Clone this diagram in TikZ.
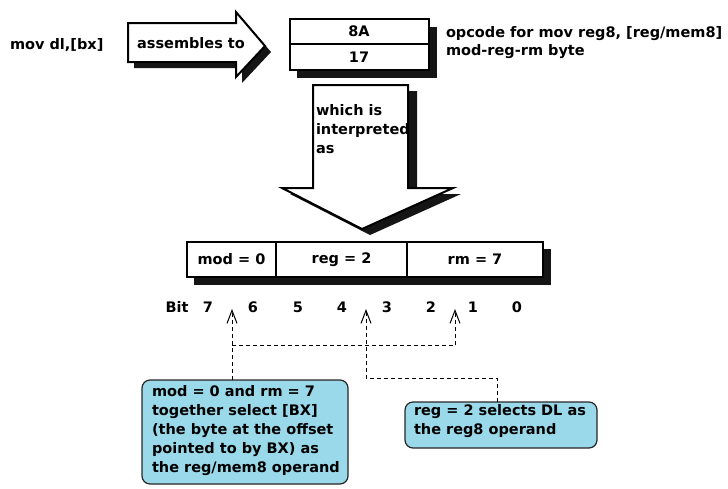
\documentclass[tikz,border=0pt]{standalone}
\usepackage{fontspec}
\setmainfont{DejaVu Sans}
\usetikzlibrary{arrows.meta}
\definecolor{callout}{HTML}{99D9EA}
\definecolor{shadowc}{HTML}{151515}
\tikzset{
  lbl/.style={font=\fontsize{14.5}{19}\selectfont\bfseries, inner sep=0pt, outer sep=0pt},
  cellbox/.style={draw, line width=2pt, fill=white, inner sep=0pt, outer sep=0pt, font=\fontsize{14.5}{19}\selectfont\bfseries},
  calloutbox/.style={draw=black!85, line width=1.2pt, fill=callout, rounded corners=8pt, inner sep=0pt, outer sep=0pt},
  shadowfill/.style={fill=shadowc},
  bigarrow/.style={draw, line width=2pt, fill=white, line join=miter},
  dashlink/.style={draw, line width=1pt, dash pattern=on 4pt off 3pt},
  dasharrow/.style={dashlink, -{Straight Barb[length=13pt, width=10pt, line width=1pt]}}
}
\begin{document}
\begin{tikzpicture}[x=1pt,y=-1pt]
\useasboundingbox (0,0) rectangle (728,488);
% source text
\node[lbl, anchor=west] (src) at (10,45) {mov dl,[bx]};
% assembles-to arrow
\fill[shadowfill] (134,29) -- (242,29) -- (242,18) -- (271,52) -- (242,83) -- (242,68) -- (134,68) -- cycle;
\draw[bigarrow] (128,23) -- (236,23) -- (236,12) -- (265,46) -- (236,77) -- (236,62) -- (128,62) -- cycle;
\node[lbl] (asm) at (191,43) {assembles to};
% instruction bytes
\fill[shadowfill] (297,27) rectangle (437,78);
\node[cellbox, minimum width=139pt, minimum height=25pt] (b8a) at (359,31.5) {8A};
\node[cellbox, minimum width=139pt, minimum height=26pt, anchor=north] (b17) at (b8a.south) {17};
\node[lbl, anchor=west] (op1) at (446,34) {opcode for mov reg8, [reg/mem8]};
\node[lbl, anchor=west] (op2) at (446,52) {mod-reg-rm byte};
% interpreted-as arrow
\fill[shadowfill] (321,91) -- (417,91) -- (417,194) -- (461,194) -- (370,235) -- (290,194) -- (321,194) -- cycle;
\draw[bigarrow] (313,85) -- (408,85) -- (408,188) -- (453,188) -- (362,229) -- (282,188) -- (313,188) -- cycle;
\node[lbl, anchor=north west, align=left] (interp) at (316,104) {which is\\interpreted\\as};
% mod-reg-rm fields
\fill[shadowfill] (194,249) rectangle (551,285);
\node[cellbox, minimum width=89pt, minimum height=35pt] (fmod) at (231.5,259.5) {mod = 0};
\node[cellbox, minimum width=131pt, minimum height=35pt, anchor=west] (freg) at (fmod.east) {reg = 2};
\node[cellbox, minimum width=136pt, minimum height=35pt, anchor=west] (frm) at (freg.east) {rm = 7};
% bit numbers
\node[lbl] (bitlbl) at (177,307) {Bit};
\node[lbl] (bit7) at (208,307) {7};
\node[lbl] (bit6) at (253,307) {6};
\node[lbl] (bit5) at (298,307) {5};
\node[lbl] (bit4) at (342,307) {4};
\node[lbl] (bit3) at (387,307) {3};
\node[lbl] (bit2) at (431,307) {2};
\node[lbl] (bit1) at (473,307) {1};
\node[lbl] (bit0) at (517,307) {0};
\coordinate (t76) at (232,309);
\coordinate (t43) at (366,309);
\coordinate (t21) at (455,309);
% callouts
\node[calloutbox, minimum width=206pt, minimum height=104pt, anchor=north west] (lbox) at (142,380) {};
\node[lbl, anchor=north west, align=left] (ltext) at (152,385) {mod = 0 and rm = 7\\together select [BX]\\(the byte at the offset\\pointed to by BX) as\\the reg/mem8 operand};
\node[calloutbox, minimum width=192pt, minimum height=46pt, anchor=north west] (rbox) at (405,402) {};
\node[lbl, anchor=north west, align=left] (rtext) at (414,404) {reg = 2 selects DL as\\the reg8 operand};
% dashed connectors
\coordinate (jl) at (232,345);
\coordinate (jr) at (455,345);
\coordinate (jm) at (366,378);
\coordinate (jm2) at (497,378);
\draw[dasharrow] (lbox.north -| t76) -- (t76);
\draw[dashlink] (jl) -- (jr);
\draw[dasharrow] (jr) -- (t21);
\draw[dasharrow] (rbox.north -| jm2) -- (jm2) -- (jm) -- (t43);
\end{tikzpicture}
\end{document}
